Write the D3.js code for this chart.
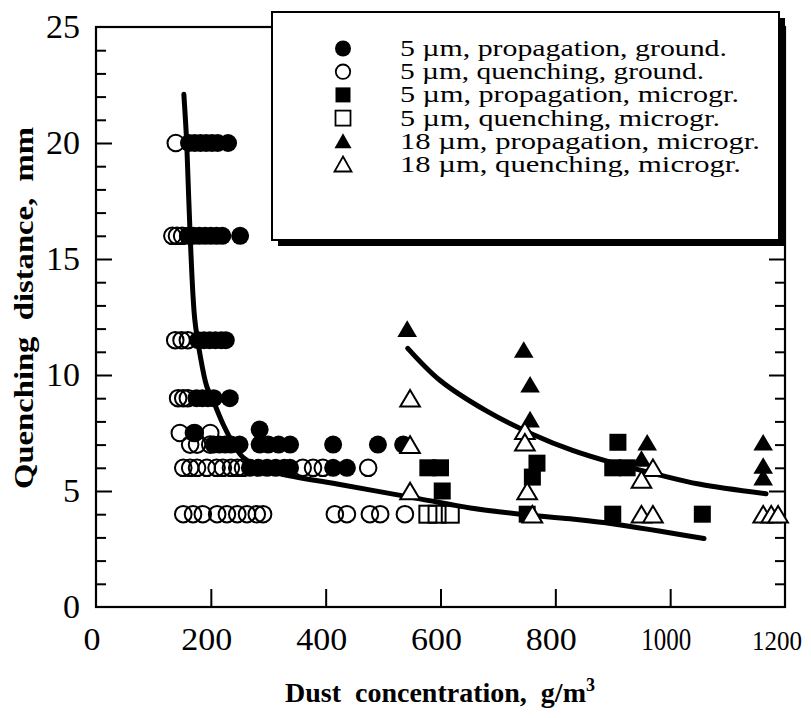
<!DOCTYPE html>
<html><head><meta charset="utf-8">
<script src="https://cdn.jsdelivr.net/npm/d3@7"></script>
<style>
body{margin:0;background:#fff}
svg{display:block}
text{font-family:"Liberation Serif","Times New Roman",serif;fill:#000}
</style>
</head><body>
<svg id="chart" width="811" height="718"></svg>
<script>
// ---------- data ----------
const xTicks = [0, 200, 400, 600, 800, 1000, 1200];
const yTicks = [0, 5, 10, 15, 20, 25];
const legendLabels = [
  "5 \u00b5m, propagation, ground.",
  "5 \u00b5m, quenching, ground.",
  "5 \u00b5m, propagation, microgr.",
  "5 \u00b5m, quenching, microgr.",
  "18 \u00b5m, propagation, microgr.",
  "18 \u00b5m, quenching, microgr."
];
// [dust concentration g/m3, quenching distance mm]
const propGround5 = [
  [162,20],[172,20],[182,20],[192,20],[202,20],[212,20],[230,20],
  [160,16],[170,16],[180,16],[190,16],[200,16],[210,16],[220,16],[251,16],
  [178,11.5],[188,11.5],[198,11.5],[208,11.5],[218,11.5],[226,11.5],
  [175,9],[185,9],[195,9],[205,9],[233,9],
  [170,7.5],[285,7.65],
  [205,7],[215,7],[225,7],[235,7],[250,7],[285,7],[300,7],[318,7],[338,7],[413,7],[491,7],[535,7],
  [268,6],[283,6],[298,6],[313,6],[328,6],[338,6],[413,6],[437,6]
];
const quenchGround5 = [
  [139,20],
  [133,16],[141,16],[150,16],
  [138,11.5],[149,11.5],[160,11.5],
  [143,9],[152,9],[160,9],
  [146,7.5],[172,7.5],[199,7.5],
  [164,7],[176,7],[199,7],
  [152,6],[164,6],[176,6],[193,6],[210,6],[221,6],[235,6],[246,6],[256,6],[360,6],[378,6],[395,6],[474,6],
  [152,4],[169,4],[186,4],[211,4],[228,4],[246,4],[263,4],[280,4],[291,4],[416,4],[437,4],[477,4],[495,4],[538,4]
];
const propMicro5 = [
  [578,6],[600,6],[603,5],[768,6.2],[760,5.6],[751,4],[909,7.1],[900,6],[925,6],[900,4],[1056,4]
];
const quenchMicro5 = [[578,4],[594,4],[617,4]];
const propMicro18 = [
  [542,12],[745,11.1],[756,9.6],[756,8.1],[960,7.1],[950,6.4],[1162,7.1],[1162,6.1],[1162,5.6]
];
const quenchMicro18 = [
  [547,9],[547,7],[547,5],[747,7.6],[747,7.1],[751,5],[760,4],[970,6],[950,5.5],[950,4],[970,4],[1162,4],[1176,4],[1188,4]
];
const fit5 = [
  [153,22.1],[158,20],[164,16],[172,12.4],[181,10.9],[193,9.5],[204,8.9],[221,7.9],[240,7.0],
  [256,6.45],[280,6.1],[320,5.75],[420,5.3],[564,4.66],[652,4.27],[739,4.0],[826,3.8],[902,3.58],[1059,2.95]
];
const fit18 = [
  [543,11.15],[600,9.75],[680,8.45],[760,7.45],[830,6.75],[902,6.2],[980,5.7],[1050,5.3],[1167,4.88]
];

// ---------- layout ----------
const L = 96, R = 785, T = 27, B = 607;
const svg = d3.select("#chart");
const x = d3.scaleLinear().domain([0, 1200]).range([L, R]);
const y = d3.scaleLinear().domain([0, 25]).range([B, T]);
const black = "#000";

// ticks (inward)
const minorY = d3.range(1, 25).filter(v => v % 5 !== 0);
function tickAxis(axisFn, scale, pos, values, size) {
  const g = svg.append("g").attr("transform", pos)
    .call(axisFn(scale).tickValues(values).tickSize(size).tickFormat(""));
  g.select(".domain").remove();
  g.selectAll("line").attr("stroke", black).attr("stroke-width", 2);
}
tickAxis(d3.axisLeft, y, `translate(${L},0)`, [5,10,15,20], -16);
tickAxis(d3.axisLeft, y, `translate(${L},0)`, minorY, -10);
tickAxis(d3.axisRight, y, `translate(${R},0)`, [5,10,15,20], -16);
tickAxis(d3.axisRight, y, `translate(${R},0)`, minorY, -10);
tickAxis(d3.axisBottom, x, `translate(0,${B})`, [200,400,600,800,1000], -18);

// frame
svg.append("rect").attr("x", L).attr("y", T).attr("width", R - L).attr("height", B - T)
  .attr("fill", "none").attr("stroke", black).attr("stroke-width", 2.2);

// tick labels
svg.append("g").selectAll("text").data(yTicks).join("text")
  .attr("x", 80).attr("y", d => y(d) + 11)
  .attr("text-anchor", "end").attr("font-size", 34)
  .text(d => d);
svg.append("g").selectAll("text").data(xTicks).join("text")
  .attr("x", d => d === 1200 ? 802 : x(d) - 4).attr("y", 650)
  .attr("text-anchor", d => d === 1200 ? "end" : "middle")
  .attr("font-size", d => d === 1200 ? 28 : 31)
  .attr("textLength", d => String(d).length === 4 ? 50 : String(d).length * 17)
  .attr("lengthAdjust", "spacingAndGlyphs")
  .text(d => d);

// axis titles
svg.append("text")
  .attr("transform", "translate(33,308) rotate(-90)")
  .attr("text-anchor", "middle").attr("font-size", 28).attr("font-weight", "bold")
  .attr("textLength", 362).attr("lengthAdjust", "spacingAndGlyphs")
  .text("Quenching\u00a0 distance,\u00a0 mm");
const xt = svg.append("text")
  .attr("x", 440).attr("y", 702)
  .attr("text-anchor", "middle").attr("font-size", 28).attr("font-weight", "bold");
xt.append("tspan").text("Dust\u00a0 concentration,\u00a0 g/m");
xt.append("tspan").attr("font-size", 18).attr("dy", -11).text("3");

// fitted curves
const line = d3.line().x(d => x(d[0])).y(d => y(d[1])).curve(d3.curveCatmullRom.alpha(0.5));
[fit5, fit18].forEach(c => svg.append("path").attr("d", line(c))
  .attr("fill", "none").attr("stroke", black).attr("stroke-width", 5).attr("stroke-linecap", "round"));

// markers
const R_C = 8.6, S_Q = 17, TW = 9.8, TH = 8.3;
function triPath(cx, cy) {
  return `M${cx},${cy - TH}L${cx + TW},${cy + TH}L${cx - TW},${cy + TH}Z`;
}
function drawCircles(data, filled) {
  svg.append("g").selectAll("circle").data(data).join("circle")
    .attr("cx", d => x(d[0])).attr("cy", d => y(d[1])).attr("r", filled ? R_C + 0.4 : R_C - 0.3)
    .attr("fill", filled ? black : "none").attr("stroke", black).attr("stroke-width", filled ? 0 : 2);
}
function drawSquares(data, filled) {
  svg.append("g").selectAll("rect").data(data).join("rect")
    .attr("x", d => x(d[0]) - S_Q / 2).attr("y", d => y(d[1]) - S_Q / 2)
    .attr("width", S_Q).attr("height", S_Q)
    .attr("fill", filled ? black : "none").attr("stroke", black).attr("stroke-width", filled ? 0 : 2);
}
function drawTriangles(data, filled) {
  svg.append("g").selectAll("path").data(data).join("path")
    .attr("d", d => triPath(x(d[0]), y(d[1])))
    .attr("fill", filled ? black : "#fff").attr("stroke", black).attr("stroke-width", filled ? 0 : 2);
}
drawCircles(propGround5, true);
drawCircles(quenchGround5, false);
drawSquares(propMicro5, true);
drawSquares(quenchMicro5, false);
drawTriangles(propMicro18, true);
drawTriangles(quenchMicro18, false);

// legend
const lg = svg.append("g");
lg.append("rect").attr("x", 278).attr("y", 18).attr("width", 507).attr("height", 228).attr("fill", black);
lg.append("rect").attr("x", 272).attr("y", 12).attr("width", 507).attr("height", 228)
  .attr("fill", "#fff").attr("stroke", black).attr("stroke-width", 2);
const legendWidths = [327, 304, 339, 320, 360, 341];
const symX = 343, textX = 400, base0 = 56, step = 23.2;
legendLabels.forEach((t, i) => {
  const by = base0 + i * step, cy = by - 7.5;
  lg.append("text").attr("x", textX).attr("y", by).attr("font-size", 23)
    .attr("textLength", legendWidths[i]).attr("lengthAdjust", "spacingAndGlyphs").text(t);
  const filled = i % 2 === 0;
  if (i < 2) {
    lg.append("circle").attr("cx", symX).attr("cy", cy).attr("r", filled ? 8 : 7.2)
      .attr("fill", filled ? black : "none").attr("stroke", black).attr("stroke-width", filled ? 0 : 1.8);
  } else if (i < 4) {
    lg.append("rect").attr("x", symX - 7.5).attr("y", cy - 7.5).attr("width", 15).attr("height", 15)
      .attr("fill", filled ? black : "none").attr("stroke", black).attr("stroke-width", filled ? 0 : 1.8);
  } else {
    lg.append("path").attr("d", `M${symX},${cy - 8}L${symX + 8.5},${cy + 7}L${symX - 8.5},${cy + 7}Z`)
      .attr("fill", filled ? black : "#fff").attr("stroke", black).attr("stroke-width", filled ? 0 : 1.8);
  }
});
</script>
</body></html>
